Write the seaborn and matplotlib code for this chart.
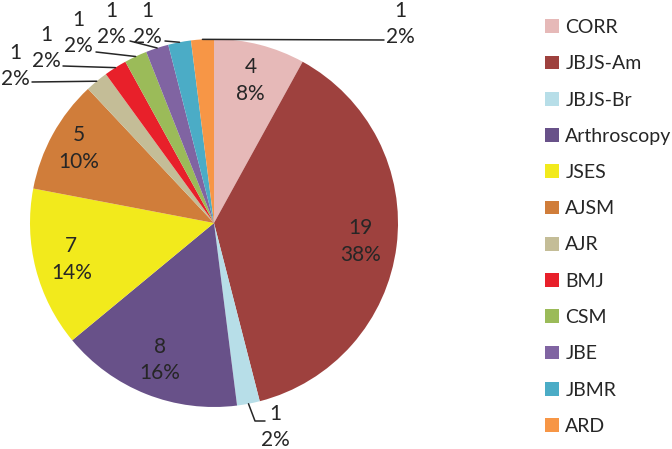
import numpy as np
import matplotlib
matplotlib.use("Agg")
import matplotlib.pyplot as plt
import matplotlib.patches as mpatches
import seaborn as sns

# dados do grafico
journals = ["CORR", "JBJS-Am", "JBJS-Br", "Arthroscopy", "JSES", "AJSM",
            "AJR", "BMJ", "CSM", "JBE", "JBMR", "ARD"]
counts = [4, 19, 1, 8, 7, 5, 1, 1, 1, 1, 1, 1]
slice_colors = ["#E6B9B8", "#9E413E", "#B7DEE8", "#685189", "#F2EA1C", "#D07D3A",
                "#C4BD97", "#E8202A", "#9BBB59", "#8064A2", "#4BACC6", "#F79646"]

sns.set_theme(style="white")
plt.rcParams["font.family"] = ["Lato", "DejaVu Sans"]

W, H = 672, 449
fig = plt.figure(figsize=(W / 100, H / 100), dpi=100)
ax = fig.add_axes([0, 0, 1, 1])

def px(x, y):
    # coordenadas em pixels da imagem (y para baixo) -> eixo (y para cima)
    return x, H - y

cx, cy = px(214, 223)
R = 184
palette = sns.color_palette(slice_colors)

# pizza no sentido horario comecando no topo
wedges, _ = ax.pie(counts, colors=palette, startangle=90, counterclock=False,
                   center=(cx, cy), radius=R, frame=True,
                   wedgeprops={"linewidth": 0, "edgecolor": "none"})
ax.set_xlim(0, W)
ax.set_ylim(0, H)
ax.set_aspect("equal")
ax.axis("off")

total = sum(counts)
cum = np.cumsum([0] + counts)
txt_color = "#262626"
fs = 15
ls = 1.4

# fatias pequenas: texto fora, com linha guia (posicao do texto, pontos da linha)
outside = {
    "JBJS-Br": ((275, 427), [(255, 421), (265, 421)]),
    "AJR": ((15, 66), [(32, 82)]),
    "BMJ": ((46, 48), [(63, 66)]),
    "CSM": ((78, 33), [(96, 52)]),
    "JBE": ((111, 24), [(130, 41)]),
    "JBMR": ((147, 24), [(165, 41)]),
    "ARD": ((400, 24), [(384, 40)]),
}

for i, name in enumerate(journals):
    mid = (cum[i] + cum[i + 1]) / 2 / total * 2 * np.pi
    dx, dy = np.sin(mid), np.cos(mid)
    pct = f"{counts[i] / total * 100:.0f}%"
    label = f"{counts[i]}\n{pct}"
    if name in outside:
        (tx, ty), path = outside[name]
        ex, ey = cx + dx * R, cy + dy * R
        pts = [px(*p) for p in path]
        xs = [ex] + [p[0] for p in pts]
        ys = [ey] + [p[1] for p in pts]
        ax.plot(xs, ys, color="#262626", lw=1.1)
        ax.text(*px(tx, ty), label, ha="center", va="center", fontsize=fs,
                color=txt_color, linespacing=ls)
    else:
        k = 0.84 if name == "AJSM" else 0.8
        ax.text(cx + dx * R * k, cy + dy * R * k, label, ha="center", va="center",
                fontsize=fs, color=txt_color, linespacing=ls)

# legenda
handles = [mpatches.Patch(facecolor=c, edgecolor="none") for c in palette]
fig.legend(handles, journals, loc="upper left", bbox_to_anchor=(545 / W, 1 - 19 / H),
           frameon=False, fontsize=14, handlelength=0.7, handleheight=0.7,
           handletextpad=0.35, labelspacing=0.99, borderaxespad=0, borderpad=0,
           labelcolor="#262626")

fig.savefig("out.png", dpi=100)
